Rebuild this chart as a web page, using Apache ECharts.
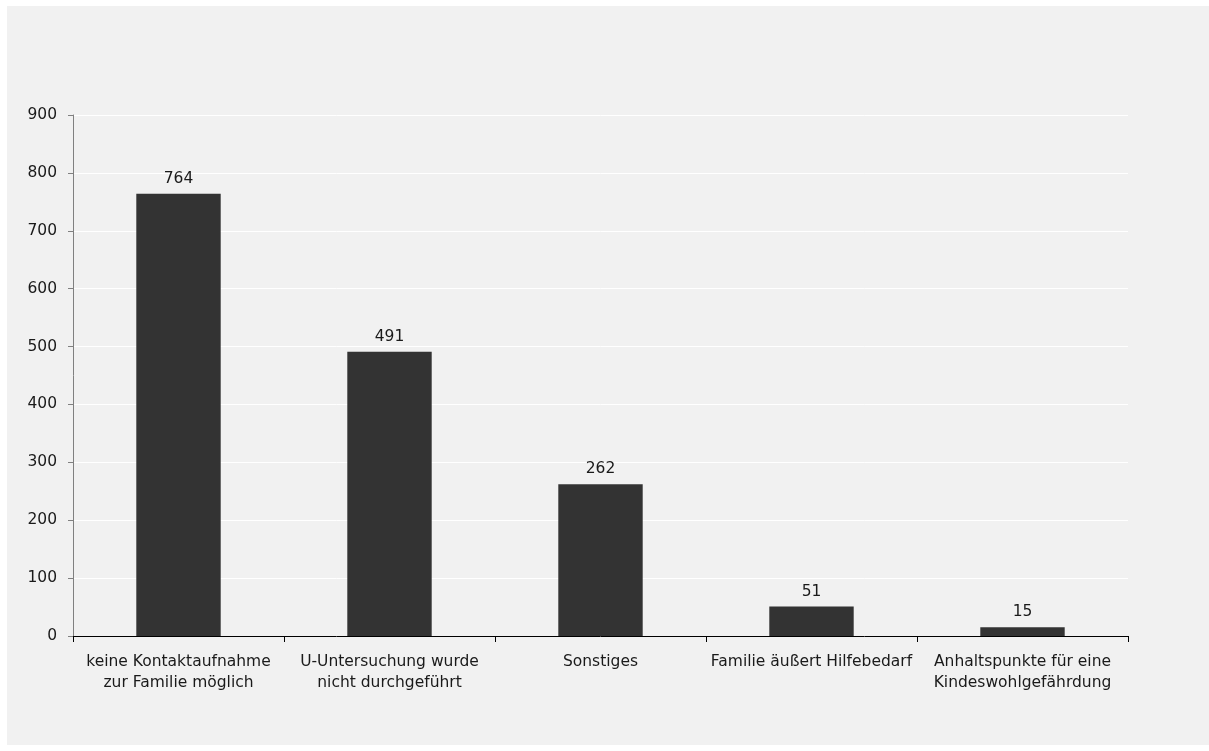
<!DOCTYPE html>
<html>
<head>
<meta charset="utf-8">
<script src="https://cdn.jsdelivr.net/npm/echarts@6/dist/echarts.min.js"></script>
<style>
  html, body { margin: 0; padding: 0; background: #ffffff; }
  #chart { width: 1209px; height: 751px; }
</style>
</head>
<body>
<div id="chart"></div>
<script>
const categories = [
  'keine Kontaktaufnahme\nzur Familie möglich',
  'U-Untersuchung wurde\nnicht durchgeführt',
  'Sonstiges',
  'Familie äußert Hilfebedarf',
  'Anhaltspunkte für eine\nKindeswohlgefährdung'
];
const values = [764, 491, 262, 51, 15];
const yMax = 900;
const yStep = 100;

const FONT = '"DejaVu Sans", "Liberation Sans", sans-serif';
const chart = echarts.init(document.getElementById('chart'), null, { renderer: 'canvas' });

chart.setOption({
  backgroundColor: '#ffffff',
  animation: false,
  graphic: [{
    type: 'rect',
    z: -10,
    silent: true,
    shape: { x: 7, y: 6, width: 1202, height: 739 },
    style: { fill: '#f1f1f1' }
  }],
  grid: { left: 73, right: 81, top: 115, bottom: 115, containLabel: false },
  xAxis: {
    type: 'category',
    data: categories,
    axisLine: { show: true, lineStyle: { color: '#000000', width: 1 } },
    axisTick: { show: true, alignWithLabel: false, length: 6, lineStyle: { color: '#000000' } },
    axisLabel: {
      color: '#1a1a1a', fontFamily: FONT, fontSize: 15.5, lineHeight: 21,
      margin: 15, interval: 0
    },
    splitLine: { show: false }
  },
  yAxis: {
    type: 'value',
    min: 0, max: yMax, interval: yStep,
    axisLine: { show: true, lineStyle: { color: '#808080', width: 1 } },
    axisTick: { show: true, length: 5, lineStyle: { color: '#808080' } },
    axisLabel: { color: '#1a1a1a', fontFamily: FONT, fontSize: 15.5, margin: 16 },
    splitLine: { show: true, lineStyle: { color: '#ffffff', width: 1 } }
  },
  series: [{
    type: 'bar',
    data: values,
    barWidth: '40%',
    itemStyle: { color: '#333333' },
    label: {
      show: true, position: 'top', distance: 7,
      color: '#1a1a1a', fontFamily: FONT, fontSize: 15.5
    }
  }]
});
</script>
</body>
</html>
